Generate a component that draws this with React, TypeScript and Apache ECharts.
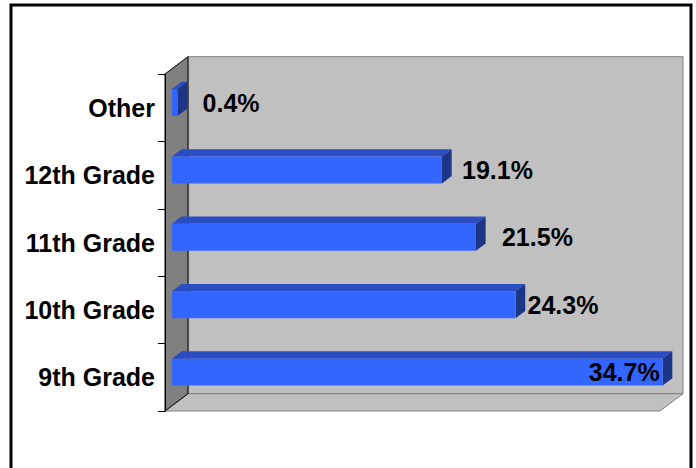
import React, { useEffect, useRef } from "react";
import * as echarts from "echarts";

const categories = ["9th Grade", "10th Grade", "11th Grade", "12th Grade", "Other"];
const values = [34.7, 24.3, 21.5, 19.1, 0.4];
const valueLabels = ["34.7%", "24.3%", "21.5%", "19.1%", "0.4%"];

// styling: label nudges (px) relative to the bar's front end
const labelNudge = [-3, 12, 26, 20, 25];
const labelAlign = ["right", "left", "left", "left", "left"];

const FONT = "Arial, 'Liberation Sans', sans-serif";
const DX = 23;
const DY = -17.3;
const F0 = 0.3;
const F1 = 0.72;

export default function App() {
  const ref = useRef<HTMLDivElement>(null);
  useEffect(() => {
    if (!ref.current) return;
    const chart = echarts.init(ref.current, undefined, { renderer: "svg" });
    const option: any = {
      animation: false,
      backgroundColor: "#ffffff",
      grid: { left: 165, right: 36, top: 74, bottom: 57 },
      xAxis: { type: "value", min: 0, max: 35, show: false },
      yAxis: {
        type: "category",
        data: categories,
        z: 5,
        axisLine: { show: true, lineStyle: { color: "#000", width: 1 } },
        axisTick: { show: true, length: 7, lineStyle: { color: "#000" } },
        axisLabel: {
          margin: 10,
          color: "#000",
          fontSize: 25,
          fontWeight: "bold",
          fontFamily: FONT,
        },
        splitLine: { show: false },
      },
      graphic: [
        {
          type: "rect",
          z: 100,
          shape: { x: 11, y: 5, width: 680, height: 520 },
          style: { fill: "none", stroke: "#000", lineWidth: 3 },
        },
      ],
      series: [
        {
          type: "custom",
          z: 1,
          silent: true,
          data: [[0, 0]],
          renderItem: (params: any) => {
            const cs = params.coordSys;
            const x = cs.x, y = cs.y, w = cs.width, h = cs.height;
            return {
              type: "group",
              children: [
                {
                  type: "rect",
                  shape: { x: x + DX, y: y + DY, width: w, height: h },
                  style: { fill: "#c0c0c0", stroke: "#808080", lineWidth: 1 },
                },
                {
                  type: "polygon",
                  shape: {
                    points: [
                      [x, y + h],
                      [x + w, y + h],
                      [x + w + DX, y + h + DY],
                      [x + DX, y + h + DY],
                    ],
                  },
                  style: { fill: "#c0c0c0", stroke: "#808080", lineWidth: 1 },
                },
                {
                  type: "polygon",
                  shape: {
                    points: [
                      [x, y],
                      [x + DX, y + DY],
                      [x + DX, y + h + DY],
                      [x, y + h],
                    ],
                  },
                  style: { fill: "#808080", stroke: "#000", lineWidth: 1 },
                },
              ],
            };
          },
        },
        {
          type: "custom",
          z: 2,
          data: values.map((v, i) => [v, i]),
          renderItem: (params: any, api: any) => {
            const i = params.dataIndex;
            const v = api.value(0);
            const c = api.value(1);
            const p0 = api.coord([0, c]);
            const p1 = api.coord([v, c]);
            const band = api.size([0, 1])[1];
            const bh = band * 0.4;
            const ox = DX * F0, oy = DY * F0;
            const x0 = p0[0] + ox;
            const x1 = p1[0] + ox;
            const yc = p0[1] + oy;
            const yt = yc - bh / 2;
            const yb = yc + bh / 2;
            const ddx = DX * (F1 - F0);
            const ddy = DY * (F1 - F0);
            return {
              type: "group",
              children: [
                {
                  type: "polygon",
                  shape: {
                    points: [
                      [x0, yt],
                      [x1, yt],
                      [x1 + ddx, yt + ddy],
                      [x0 + ddx, yt + ddy],
                    ],
                  },
                  style: { fill: "#2a4dc2" },
                },
                {
                  type: "polygon",
                  shape: {
                    points: [
                      [x1, yt],
                      [x1 + ddx, yt + ddy],
                      [x1 + ddx, yb + ddy],
                      [x1, yb],
                    ],
                  },
                  style: { fill: "#1c3586" },
                },
                {
                  type: "rect",
                  shape: { x: x0, y: yt, width: x1 - x0, height: bh },
                  style: { fill: "#3366ff" },
                },
                {
                  type: "text",
                  z2: 10,
                  style: {
                    text: valueLabels[i],
                    x: x1 + labelNudge[i],
                    y: yc,
                    fill: "#000",
                    fontSize: 25,
                    fontWeight: "bold",
                    fontFamily: FONT,
                    align: labelAlign[i],
                    verticalAlign: "middle",
                  },
                },
              ],
            };
          },
        },
      ],
    };
    chart.setOption(option);
    return () => chart.dispose();
  }, []);
  return (
    <div
      ref={ref}
      style={{ position: "fixed", left: 0, top: 0, width: 696, height: 468 }}
    />
  );
}
